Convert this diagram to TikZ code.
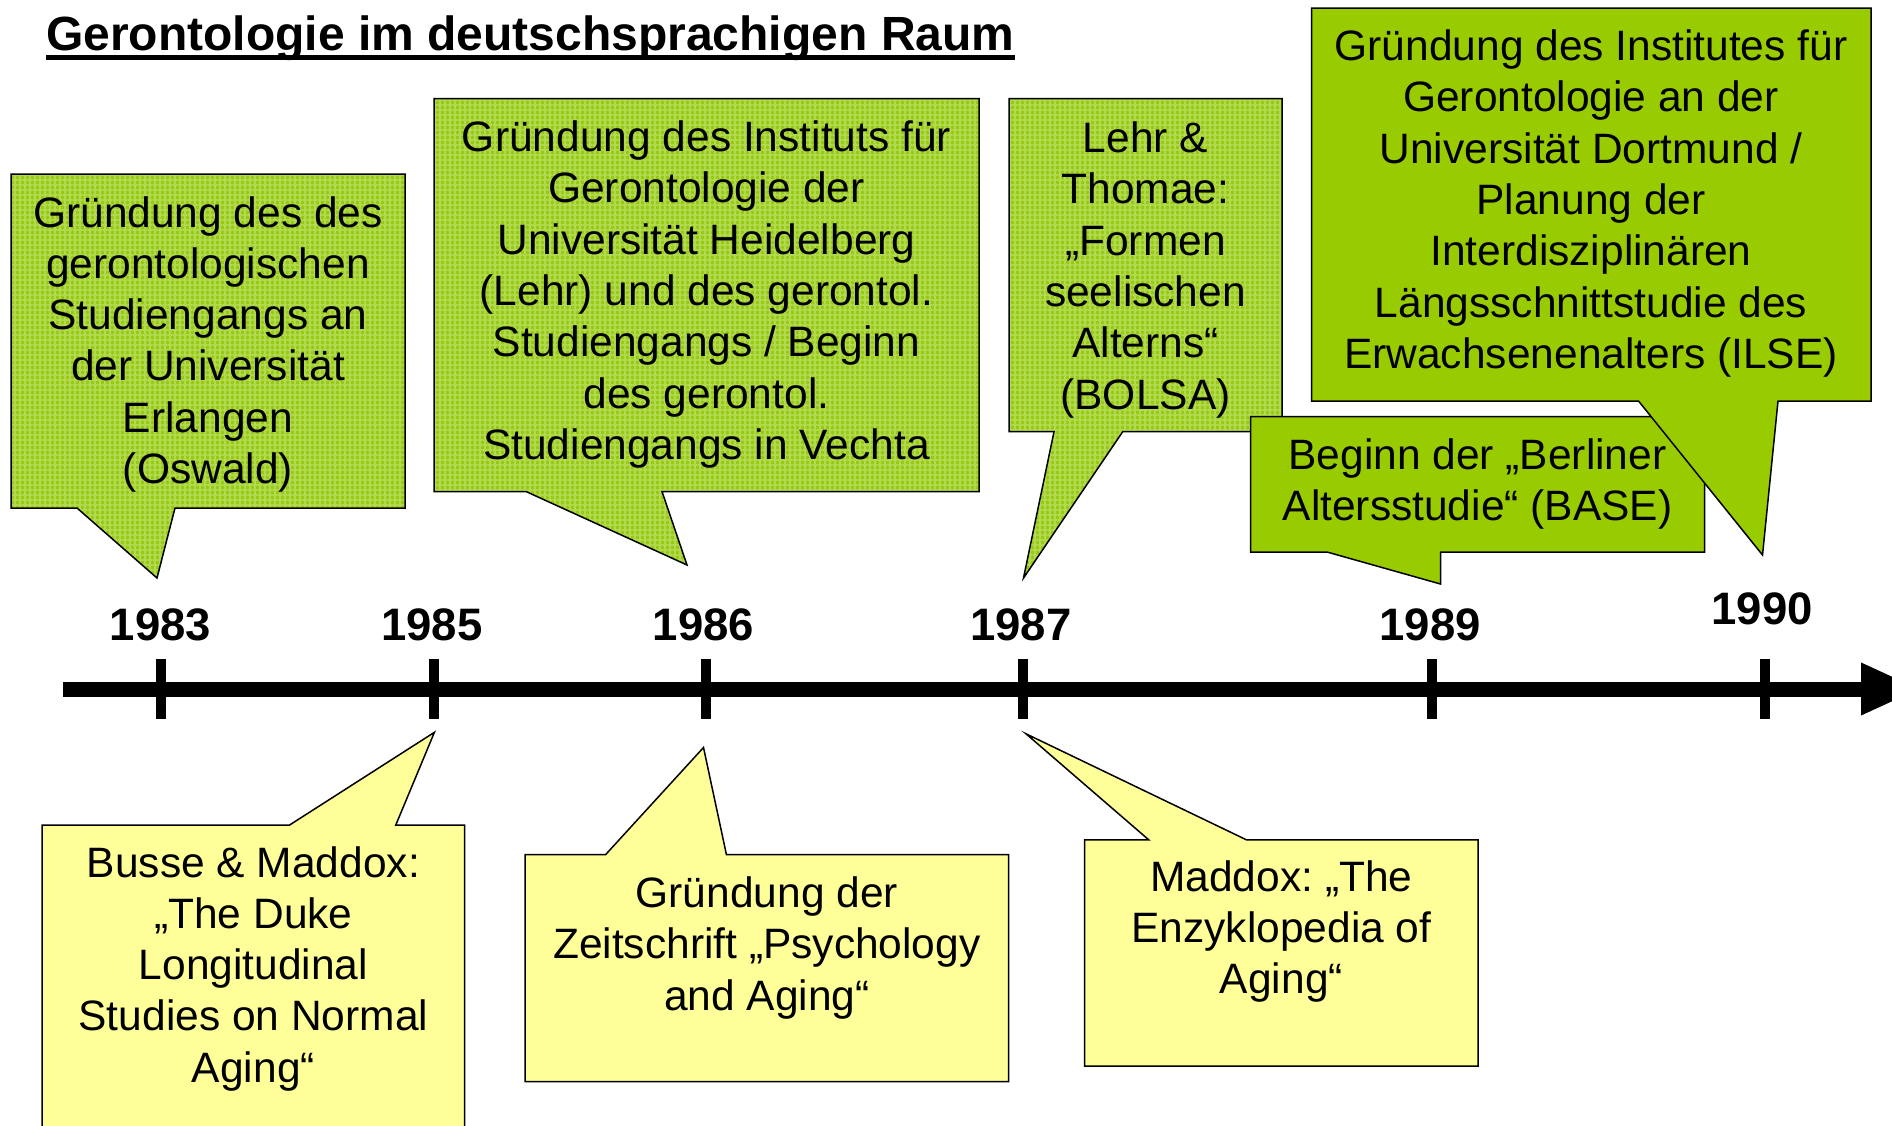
\documentclass[tikz,border=0pt]{standalone}
\usepackage{fontspec}
\setmainfont{Liberation Sans}
\frenchspacing
\usetikzlibrary{arrows.meta,patterns.meta}
\definecolor{gbase}{RGB}{152,202,20}
\definecolor{glight}{RGB}{178,218,80}
\definecolor{gsolid}{RGB}{153,204,0}
\definecolor{ylw}{RGB}{255,255,153}
\newcommand{\mylines}[1]{\begin{tabular}[t]{@{}c@{}}#1\end{tabular}}
\begin{document}
\begin{tikzpicture}[x=1pt,y=-1pt,
  pbox/.style={draw=black, line width=1.5pt, preaction={fill=gbase}, pattern={Hatch[angle=0,distance=5pt,line width=1.2pt]}, pattern color=glight},
  sbox/.style={draw=black, line width=1.5pt, fill=gsolid},
  ybox/.style={draw=black, line width=1.5pt, fill=ylw},
  txt/.style={anchor=base, inner sep=0pt, font=\fontsize{42.5}{51.3}\selectfont\frenchspacing},
  year/.style={anchor=base, inner sep=0pt, font=\fontsize{45.5}{50}\selectfont\bfseries},
  tickmark/.style={line width=10pt},
]
\useasboundingbox (0,0) rectangle (1892,1125);

% title
\node[anchor=base west, inner sep=0pt, font=\fontsize{48}{56}\selectfont\bfseries] (title) at (46,50) {Gerontologie im deutschsprachigen Raum};
\draw[line width=5pt] ([yshift=-7.5pt]title.base west) -- ([yshift=-7.5pt]title.base east);

% green callouts (top)
\path[pbox] (11,174) -- (405,174) -- (405,508) -- (175,508) -- (157,578) -- (77,508) -- (11,508) -- cycle;
\node[txt] (b83) at (208,227) {\mylines{Gründung des des\\gerontologischen\\Studiengangs an\\der Universität\\Erlangen\\(Oswald)}};

\path[pbox] (434,98.5) -- (979,98.5) -- (979,491.5) -- (662,491.5) -- (687,565) -- (526,491.5) -- (434,491.5) -- cycle;
\node[txt] (b86) at (706.5,151.5) {\mylines{Gründung des Instituts für\\Gerontologie der\\Universität Heidelberg\\(Lehr) und des gerontol.\\Studiengangs / Beginn\\des gerontol.\\Studiengangs in Vechta}};

\path[pbox] (1009,98.5) -- (1282,98.5) -- (1282,431.7) -- (1122.7,431.7) -- (1023.5,578) -- (1054,431.7) -- (1009,431.7) -- cycle;
\node[txt] (b87) at (1145.5,152.5) {\mylines{Lehr \&\\Thomae:\\„Formen\\seelischen\\Alterns“\\(BOLSA)}};

\path[sbox] (1250.5,416.5) -- (1704.5,416.5) -- (1704.5,552) -- (1440.5,552) -- (1440.5,584) -- (1327,552) -- (1250.5,552) -- cycle;
\node[txt] (b89) at (1477.5,469.5) {\mylines{Beginn der „Berliner\\Altersstudie“ (BASE)}};

\path[sbox] (1311.5,8) -- (1871,8) -- (1871,401) -- (1778,401) -- (1762.5,555) -- (1638.5,401) -- (1311.5,401) -- cycle;
\node[txt] (b90) at (1591,60.5) {\mylines{Gründung des Institutes für\\Gerontologie an der\\Universität Dortmund /\\Planung der\\Interdisziplinären\\Längsschnittstudie des\\Erwachsenenalters (ILSE)}};

% yellow callouts (bottom)
\path[ybox] (42,825) -- (289.6,825) -- (434.4,732.3) -- (395.8,825) -- (464.5,825) -- (464.5,1140) -- (42,1140) -- cycle;
\node[txt] (y85) at (253.4,877) {\mylines{Busse \& Maddox:\\„The Duke\\Longitudinal\\Studies on Normal\\Aging“}};

\path[ybox] (525,854.5) -- (605.7,854.5) -- (703.5,747.5) -- (726.4,854.5) -- (1008.7,854.5) -- (1008.7,1081.5) -- (525,1081.5) -- cycle;
\node[txt] (y86) at (766.8,907.5) {\mylines{Gründung der\\Zeitschrift „Psychology\\and Aging“}};

\path[ybox] (1084.7,839.8) -- (1148.7,839.8) -- (1026,733.8) -- (1246.4,839.8) -- (1478,839.8) -- (1478,1066) -- (1084.7,1066) -- cycle;
\node[txt] (y87) at (1281.4,891.3) {\mylines{Maddox: „The\\Enzyklopedia of\\Aging“}};

% timeline
\coordinate (t0) at (63,689);
\coordinate (t1) at (1921,689);
\draw[line width=15pt, -{Triangle[length=60pt,width=48pt]}] (t0) -- (t1);
\foreach \x in {161,434,706,1023,1432,1765}
  \draw[tickmark] (\x,659) -- (\x,719);

% years
\node[year] (y1983) at (160.5,640) {1983};
\node[year] (y1985) at (432,640) {1985};
\node[year] (y1986) at (703.5,640) {1986};
\node[year] (y1987) at (1021,640) {1987};
\node[year] (y1989) at (1430,640) {1989};
\node[year] (y1990) at (1762,624) {1990};
\end{tikzpicture}
\end{document}
